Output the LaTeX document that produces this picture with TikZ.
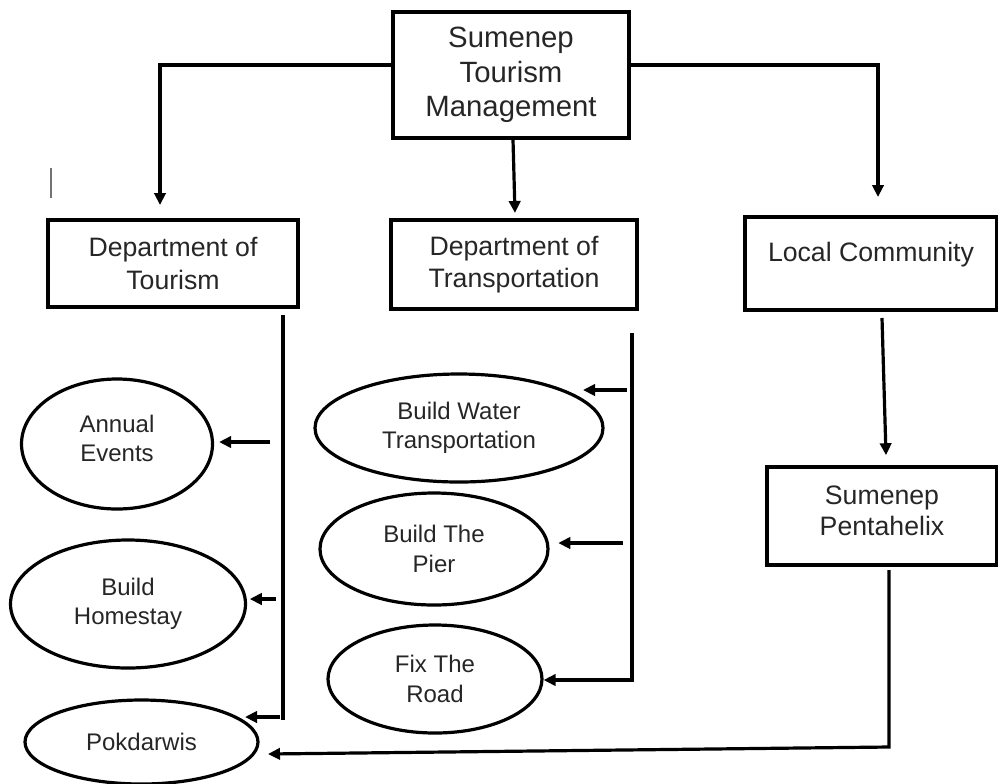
\documentclass[tikz,border=0pt]{standalone}
\usepackage{fontspec}
\setmainfont{Liberation Sans}
\usetikzlibrary{arrows.meta,shapes.geometric}

\tikzset{
  box/.style={shape=rectangle,draw=black,line width=2.7pt,align=center,inner sep=0pt,text=black!85},
  oval/.style={shape=ellipse,draw=black,line width=2.4pt,align=center,inner sep=0pt,text=black!85,
    font=\fontsize{18}{22}\selectfont},
  link/.style={line width=2.4pt},
  conn/.style={link,-{Triangle[length=9pt,width=8.5pt]}},
}

\begin{document}
\begin{tikzpicture}[x=0.75pt,y=-0.75pt]
\useasboundingbox (0,0) rectangle (998,783);

% boxes
\node[box,minimum width=177pt,minimum height=94.5pt,font=\fontsize{22}{26}\selectfont] (S) at (511,75) {Sumenep\\Tourism\\Management};
\node[box,minimum width=187.5pt,minimum height=65.25pt,font=\fontsize{20}{24.5}\selectfont] (T) at (173,263.5) {Department of\\Tourism};
\node[box,minimum width=184.5pt,minimum height=66.75pt,font=\fontsize{20}{24.5}\selectfont] (R) at (514,264.5) {Department of\\Transportation};
\node[box,minimum width=189pt,minimum height=69.75pt,
  label={[yshift=6.5pt,font=\fontsize{20}{24.5}\selectfont,text=black!85]center:Local Community}] (L) at (871,263.5) {};
\node[box,minimum width=172.5pt,minimum height=73.5pt,text depth=7.5pt,font=\fontsize{20}{23}\selectfont] (P) at (882,516) {Sumenep\\Pentahelix};

% ovals
\node[oval,minimum width=143.25pt,minimum height=97.5pt,text depth=9pt] (A) at (117,444) {Annual\\Events};
\node[oval,minimum width=176.25pt,minimum height=96pt] (H) at (128,604) {Build\\Homestay};
\node[oval,minimum width=174.75pt,minimum height=63pt] (K) at (141.5,742) {Pokdarwis};
\node[oval,minimum width=216pt,minimum height=81pt] (W) at (459,428) {Build Water\\Transportation};
\node[oval,minimum width=171pt,minimum height=84pt] (E) at (434,549) {Build The\\Pier};
\node[oval,minimum width=160.5pt,minimum height=81pt] (F) at (435,679) {Fix The\\Road};

% loose ends
\coordinate (tT) at (160,205);
\coordinate (tR) at (515,213);
\coordinate (tL) at (878,197);
\coordinate (t1) at (283,315);
\coordinate (t2) at (283,720);
\coordinate (a1) at (270,442);
\coordinate (h1) at (276,599);
\coordinate (k1) at (280,717);
\coordinate (k2) at (268,754);
\coordinate (r1) at (632,333);
\coordinate (w1) at (627,390);
\coordinate (e1) at (623,543);
\coordinate (l1) at (882,318);
\coordinate (p1) at (889,570);
\coordinate (p2) at (889,747);
\coordinate (m1) at (51,168);
\coordinate (m2) at (51,198);

% top level
\draw[conn] ([yshift=7.5pt]S.west) -| (tT);
\draw[conn] ([xshift=1.5pt]S.south) -- (tR);
\draw[conn] ([yshift=7.5pt]S.east) -| (tL);

% tourism
\draw[link] (t1) -- (t2);
\draw[conn,shorten >=3.75pt] (a1) -- (a1 -| A.east);
\draw[conn,shorten >=2pt] (h1) -- (h1 -| H.east);
\draw[conn] (k1) -- (k1 -| 245,0);

% transportation
\draw[conn] (r1) |- ([yshift=-0.75pt]F.east);
\draw[conn] (w1) -- (w1 -| 583,0);
\draw[conn,shorten >=6.5pt] (e1) -- (e1 -| E.east);

% community
\draw[conn] (l1) -- ([xshift=3pt,yshift=7.5pt]P.north);
\draw[conn] (p1) -- (p2) -- (k2);

\draw[black!55,line width=0.8pt] (m1) -- (m2);
\end{tikzpicture}
\end{document}
